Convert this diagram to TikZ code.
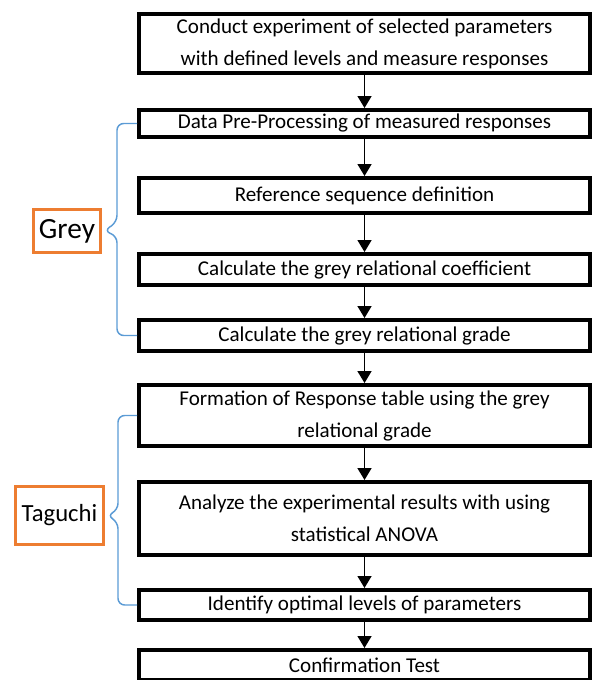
\documentclass[tikz,border=0pt]{standalone}
\usepackage{fontspec}
\setmainfont{Carlito}
\usetikzlibrary{positioning,arrows.meta,calc}
\definecolor{flOrange}{RGB}{237,125,49}
\definecolor{flBlue}{RGB}{91,155,213}
\definecolor{flBlack}{RGB}{0,0,0}

\begin{document}
\begin{tikzpicture}[x=0.75pt, y=-0.75pt,
  stepbox/.style={draw=flBlack, line width=3pt, fill=white, minimum width=338.2pt,
    inner sep=2pt, align=center, font=\fontsize{15.8}{24}\selectfont},
  tagbox/.style={draw=flOrange, line width=2.4pt, fill=white, inner sep=2pt},
  arr/.style={-{Triangle[width=10.5pt,length=9pt]}, flBlack, line width=1.1pt},
  brace/.style={flBlue, line width=1.1pt, rounded corners=5pt}]
  \useasboundingbox (0,0) rectangle (594,680);

  % Flow steps
  \node[stepbox, minimum height=44.2pt] (exp) at (364.5,43.5)
    {Conduct experiment of selected parameters\\with defined levels and measure responses};
  \node[stepbox, minimum height=20.2pt] (prep) at (364.5,123.5)
    {Data Pre-Processing of measured responses};
  \node[stepbox, minimum height=26.2pt] (ref) at (364.5,195.5)
    {Reference sequence definition};
  \node[stepbox, minimum height=23.2pt] (coef) at (364.5,269.5)
    {Calculate the grey relational coefficient};
  \node[stepbox, minimum height=23.2pt] (grade) at (364.5,335.5)
    {Calculate the grey relational grade};
  \node[stepbox, minimum height=45.7pt] (resp) at (364.5,415.5)
    {Formation of Response table using the grey\\relational grade};
  \node[stepbox, minimum height=54.7pt] (anova) at (364.5,518.5)
    {Analyze the experimental results with using\\statistical ANOVA};
  \node[stepbox, minimum height=22.5pt] (opt) at (364.5,605)
    {Identify optimal levels of parameters};
  \node[stepbox, minimum height=22.5pt] (conf) at (364.5,665)
    {Confirmation Test};

  % Arrows between steps
  \draw[arr] (exp.south) -- (prep.north);
  \draw[arr] (prep.south) -- (ref.north);
  \draw[arr] (ref.south) -- (coef.north);
  \draw[arr] (coef.south) -- (grade.north);
  \draw[arr] (grade.south) -- (resp.north);
  \draw[arr] (resp.south) -- (anova.north);
  \draw[arr] (anova.south) -- (opt.north);
  \draw[arr] (opt.south) -- (conf.north);

  % Method labels
  \node[tagbox, minimum width=50.1pt, minimum height=32.1pt,
    font=\fontsize{22}{26}\selectfont] (grey) at (67,231) {Grey};
  \node[tagbox, minimum width=65.9pt, minimum height=43.4pt,
    font=\fontsize{18.5}{22}\selectfont] (taguchi) at (59.5,515.5) {Taguchi};

  % Braces
  \draw[brace] (prep.west) -- (117,123.5) -- (117,222) -- ([xshift=1.5pt]grey.east)
    -- (117,236) -- (117,335.5) -- (grade.west);
  \draw[brace] (resp.west) -- (118,415.5) -- (118,510) -- ([xshift=1.5pt]taguchi.east)
    -- (118,522) -- (118,605) -- (opt.west);
\end{tikzpicture}
\end{document}
